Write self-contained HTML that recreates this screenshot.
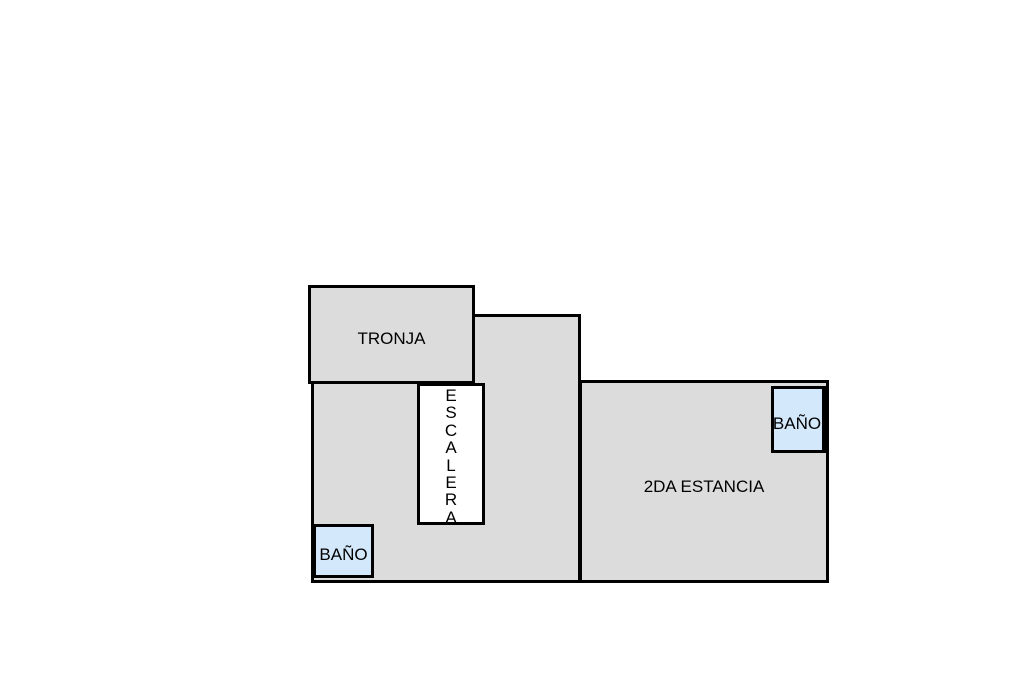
<!DOCTYPE html>
<html><head><meta charset="utf-8"><style>
body{margin:0;width:1024px;height:682px;background:#fff;position:relative;overflow:hidden;font-family:"Liberation Sans",Arial,sans-serif;}
div{position:absolute;box-sizing:border-box;border:3px solid #000;}
.g{background:#dcdcdc;}
.b{background:#d4e8fb;}
.t{border:none;color:#000;font-size:17px;text-align:center;}
</style></head><body>
<div class="g" style="left:311px;top:314px;width:270px;height:269px;"></div>
<div class="g" style="left:579px;top:380px;width:250px;height:203px;"></div>
<div class="g" style="left:308px;top:285px;width:167px;height:99px;"></div>
<div style="left:417px;top:383px;width:68px;height:142px;background:#fff;"></div>
<div class="b" style="left:313px;top:524px;width:61px;height:54px;"></div>
<div class="b" style="left:771px;top:386px;width:56px;height:67px;border-right-width:5px;"></div>
<div class="t" style="left:308px;top:329px;width:167px;">TRONJA</div>
<div class="t" style="left:417px;top:387px;width:68px;line-height:17.4px;">E<br>S<br>C<br>A<br>L<br>E<br>R<br>A</div>
<div class="t" style="left:313px;top:545px;width:61px;">BAÑO</div>
<div class="t" style="left:768px;top:414px;width:58px;">BAÑO</div>
<div class="t" style="left:579px;top:477px;width:250px;">2DA ESTANCIA</div>
</body></html>
